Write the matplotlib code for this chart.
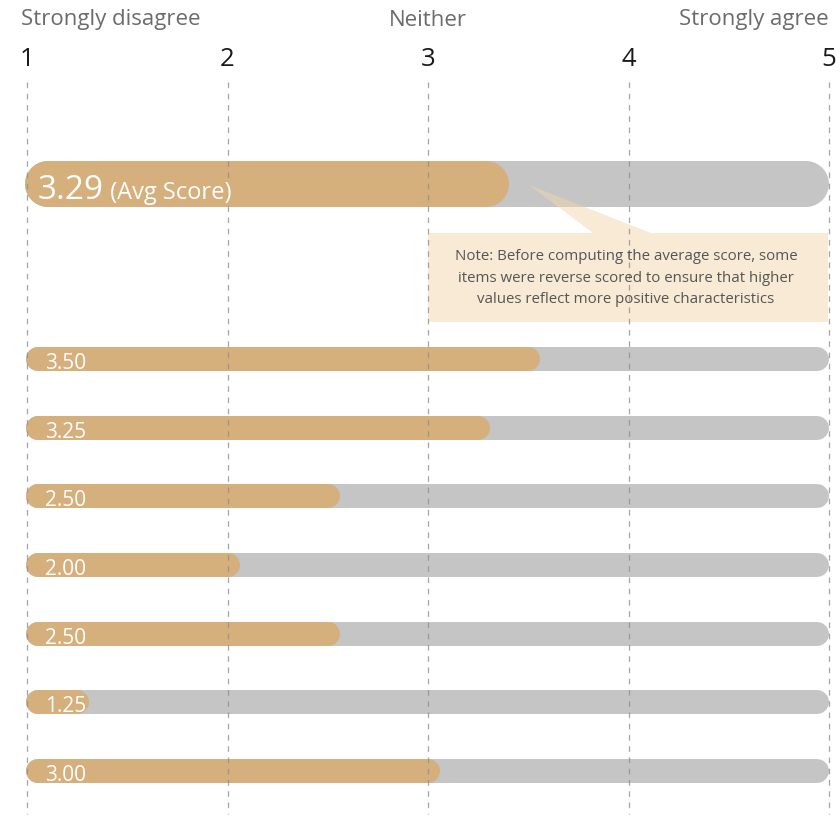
import numpy as np
import matplotlib.pyplot as plt
from matplotlib.patches import Polygon, Rectangle

plt.rcParams['font.family'] = ['Open Sans', 'DejaVu Sans']

# scale
scale_ticks = [1, 2, 3, 4, 5]
scale_labels = ["Strongly disagree", "Neither", "Strongly agree"]
scale_label_pos = [1, 3, 5]

# average score and per-item scores (top to bottom)
avg_score = 3.29
item_scores = [3.50, 3.25, 2.50, 2.00, 2.50, 1.25, 3.00]

note_text = ("Note: Before computing the average score, some\n"
             "items were reverse scored to ensure that higher\n"
             "values reflect more positive characteristics")

TAN = '#D5AF7C'
GREY = '#C4C5C4'
NOTE = '#F2D6AC'

W, H, DPI = 840, 816, 100
fig = plt.figure(figsize=(W / DPI, H / DPI), dpi=DPI)
ax = fig.add_axes([0, 0, 1, 1])

# horizontal scale: value 1 at 27px, 5 at 829px
px_per_unit = (829 - 27) / 4
ax.set_xlim(1 - 27 / px_per_unit, 5 + (W - 829) / px_per_unit)
# vertical scale in item rows: row 0 at 359px, row 6 at 771px
px_per_row = (771 - 359) / 6
ax.set_ylim((H - 359) / px_per_row, -359 / px_per_row)
ax.axis('off')


def px_y(p):
    return (p - 359) / px_per_row


avg_row = px_y(184)
item_rows = np.arange(len(item_scores))

# dashed guide lines
for t in scale_ticks:
    ax.plot([t, t], [px_y(82), px_y(814)], color='#8f8f8f', lw=0.9,
            ls=(0, (4.5, 4.5)), alpha=0.8, zorder=5)
    ax.text(t, px_y(60), str(t), ha='center', va='center', fontsize=18.5,
            color='#1a1a1a')

for lab, pos in zip(scale_labels, scale_label_pos):
    ha = {1: 'left', 3: 'center', 5: 'right'}[pos]
    x = pos - 6 / px_per_unit if pos == 1 else pos
    ax.text(x, px_y(20), lab, ha=ha, va='center', fontsize=16,
            color='#6b6b6b')


def pill(y, value, height_px, color, z):
    # round-capped bar from 1 to value; cap radius spills past value
    r = height_px / 2 / px_per_unit
    ax.plot([1 + r * 0.9, value], [y, y], color=color, lw=height_px * 72 / DPI,
            solid_capstyle='round', zorder=z)


# average bar
pill(avg_row, 5 - 23 / px_per_unit, 46, GREY, 2)
pill(avg_row, avg_score, 46, TAN, 3)
t1 = ax.text(1 + 11 / px_per_unit, px_y(199), f"{avg_score:.2f}",
             ha='left', va='baseline', fontsize=24, color='white', zorder=6)
ax.annotate(" (Avg Score)", xy=(1, px_y(199)), xycoords=(t1, 'data'),
            ha='left', va='baseline', fontsize=17, color='white', zorder=6)

# callout note
ax.add_patch(Polygon([[3 + 101 / px_per_unit, px_y(185)],
                      [3 + 165 / px_per_unit, px_y(233)],
                      [3 + 223 / px_per_unit, px_y(233)]],
                     closed=True, facecolor=NOTE, alpha=0.5, lw=0, zorder=4))
ax.add_patch(Rectangle((3, px_y(233)), 2 - 1 / px_per_unit,
                       px_y(322) - px_y(233), facecolor=NOTE, alpha=0.5,
                       lw=0, zorder=4))
ax.text(3 + 198 / px_per_unit, px_y(278), note_text, ha='center',
        va='center', fontsize=10.8, color='#555555', linespacing=1.58,
        zorder=6)

# item bars
for row, val in zip(item_rows, item_scores):
    pill(row, 5 - 12 / px_per_unit, 24, GREY, 2)
    pill(row, val, 24, TAN, 3)
    ax.text(1 + 18 / px_per_unit, row + 10 / px_per_row, f"{val:.2f}",
            ha='left', va='baseline', fontsize=15, color='white', zorder=6)

fig.savefig('out.png', dpi=DPI)
